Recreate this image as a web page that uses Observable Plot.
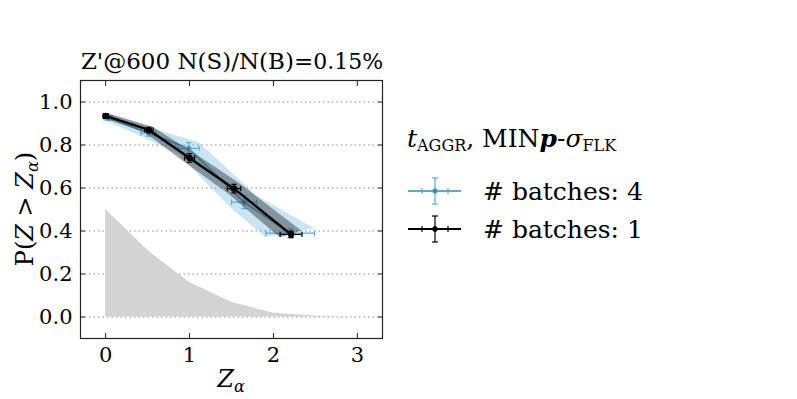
<!DOCTYPE html>
<html><head><meta charset="utf-8">
<script src="https://cdn.jsdelivr.net/npm/d3@7"></script>
<script src="https://cdn.jsdelivr.net/npm/@observablehq/plot@0.6"></script>
<style>
body{margin:0;background:#fff;}
svg text, svg tspan{font-family:"DejaVu Serif",serif !important;}
svg g[aria-label="x-axis tick label"] text, svg g[aria-label="y-axis tick label"] text{font-size:21px !important;}
</style></head>
<body><div id="chart"></div>
<script>
// null distribution (gray)
const zGrid = [0, 0.5, 1, 1.5, 2, 2.5, 3, 3.3];
const nullTail = [0.5, 0.31, 0.16, 0.069, 0.018, 0.005, 0.0, 0.0];
// # batches: 1 (black)
const zB1 = [0, 0.515, 1.0, 1.53, 2.21];
const zErrB1 = [0.03, 0.05, 0.06, 0.08, 0.13];
const pB1 = [0.935, 0.87, 0.74, 0.597, 0.384];
const pErrB1 = [0.01, 0.012, 0.02, 0.02, 0.015];
// # batches: 4 (blue)
const zB4 = [0.03, 0.51, 0.99, 1.65, 2.2];
const zErrB4 = [0.05, 0.09, 0.125, 0.15, 0.29];
const pB4 = [0.926, 0.856, 0.784, 0.534, 0.39];
const pErrB4 = [0.012, 0.015, 0.027, 0.03, 0.02];
const xTicks = [0, 1, 2, 3];
const yTicks = [0, 0.2, 0.4, 0.6, 0.8, 1.0];

const SERIF = "DejaVu Serif";
const BLUE = "#5aaad8";
const nullData = zGrid.map((z, i) => ({z, p: nullTail[i]}));
const mk = (xs, exs, ys, eys) => xs.map((x, i) => ({x, ex: exs[i], y: ys[i], ey: eys[i]}));
const b1 = mk(zB1, zErrB1, pB1, pErrB1);
const b4 = mk(zB4, zErrB4, pB4, pErrB4);

const hCap = {draw(ctx, size){const r = Math.sqrt(size)/2; ctx.moveTo(-r,0); ctx.lineTo(r,0);}};
const vCap = {draw(ctx, size){const r = Math.sqrt(size)/2; ctx.moveTo(0,-r); ctx.lineTo(0,r);}};

function series(d, color, band, bandOp, fillDot, dotR, lw) {
  return [
    Plot.area(d, {x1: d => d.x - d.ex, y1: d => d.y - d.ey, x2: d => d.x + d.ex, y2: d => d.y + d.ey, fill: band, fillOpacity: bandOp}),
    Plot.line(d, {x: "x", y: "y", stroke: color, strokeWidth: lw}),
    Plot.ruleY(d, {y: "y", x1: d => d.x - d.ex, x2: d => d.x + d.ex, stroke: color, strokeWidth: 1.2}),
    Plot.ruleX(d, {x: "x", y1: d => d.y - d.ey, y2: d => d.y + d.ey, stroke: color, strokeWidth: 1.2}),
    Plot.dot(d, {x: d => d.x - d.ex, y: "y", symbol: vCap, r: 3, stroke: color, strokeWidth: 1.2}),
    Plot.dot(d, {x: d => d.x + d.ex, y: "y", symbol: vCap, r: 3, stroke: color, strokeWidth: 1.2}),
    Plot.dot(d, {x: "x", y: d => d.y - d.ey, symbol: hCap, r: 3, stroke: color, strokeWidth: 1.2}),
    Plot.dot(d, {x: "x", y: d => d.y + d.ey, symbol: hCap, r: 3, stroke: color, strokeWidth: 1.2}),
    Plot.dot(d, {x: "x", y: "y", r: dotR, fill: fillDot, stroke: color, strokeWidth: 1})
  ];
}

const chart = Plot.plot({
  width: 797, height: 399,
  marginLeft: 80, marginRight: 415, marginTop: 80, marginBottom: 61,
  style: {fontFamily: SERIF, fontSize: "21px", background: "#fff"},
  x: {domain: [-0.3, 3.3]},
  y: {domain: [-0.1, 1.1]},
  marks: [
    Plot.gridY(yTicks, {stroke: "#888", strokeOpacity: 1, strokeDasharray: "1.5,3"}),
    Plot.areaY(nullData, {x: "z", y: "p", fill: "#d3d3d3"}),
    ...series(b4, BLUE, BLUE, 0.32, "#4f7f9c", 2.3, 2),
    ...series(b1, "#000", "#2f3436", 0.45, "#000", 2.8, 2.4),
    Plot.axisX(xTicks, {anchor: "bottom", tickSize: -5, tickPadding: 14, tickFormat: d3.format("d"), label: null, fontSize: 21, fontFamily: SERIF, stroke: "#222", fill: "#000"}),
    Plot.axisX(xTicks, {anchor: "top", tickSize: -5, tickFormat: () => "", label: null, stroke: "#222"}),
    Plot.axisY(yTicks, {anchor: "left", tickSize: -5, tickPadding: 13, tickFormat: d3.format(".1f"), label: null, fontSize: 21, fontFamily: SERIF, stroke: "#222", fill: "#000"}),
    Plot.axisY(yTicks, {anchor: "right", tickSize: -5, tickFormat: () => "", label: null, stroke: "#222"}),
    Plot.frame({stroke: "#222", strokeWidth: 1.2})
  ]
});
document.getElementById("chart").appendChild(chart);

const svg = d3.select(chart);
const txt = (x, y, size, anchor) => svg.append("text").attr("x", x).attr("y", y).attr("text-anchor", anchor).attr("font-family", SERIF).style("font-size", size + "px").attr("fill", "#000");
// title
const t = txt(232, 69, 23, "middle");
t.append("tspan").text("Z'@600 N(S)/N(B)=");
t.append("tspan").style("font-size", "22px").text("0.15%");
// x label
const xl = txt(231, 387, 24, "middle");
xl.append("tspan").style("font-style", "italic").text("Z");
xl.append("tspan").attr("dy", 5).style("font-size", "16px").style("font-style", "italic").text("α");
// y label
const yl = svg.append("text").attr("transform", "translate(33,209) rotate(-90)").attr("text-anchor", "middle").attr("font-family", SERIF).style("font-size", "24px").attr("fill", "#000");
yl.append("tspan").text("P(");
yl.append("tspan").style("font-style", "italic").text("Z");
yl.append("tspan").text(" > ");
yl.append("tspan").style("font-style", "italic").text("Z");
yl.append("tspan").attr("dy", 5).style("font-size", "16px").style("font-style", "italic").text("α");
yl.append("tspan").attr("dy", -5).text(")");
// legend
const lt = txt(407, 147, 25, "start");
lt.append("tspan").style("font-style", "italic").text("t");
lt.append("tspan").attr("dy", 4).style("font-size", "16px").text("AGGR");
lt.append("tspan").attr("dy", -4).text(", MIN");
lt.append("tspan").style("font-style", "italic").style("font-weight", "bold").text("p");
lt.append("tspan").text("-");
lt.append("tspan").style("font-style", "italic").text("σ");
lt.append("tspan").attr("dy", 4).style("font-size", "16px").text("FLK");
const entries = [{label: "# batches: 4", color: BLUE, fill: "#4f7f9c", y: 191}, {label: "# batches: 1", color: "#000", fill: "#000", y: 229}];
for (const e of entries) {
  const g = svg.append("g");
  g.append("line").attr("x1", 408).attr("x2", 461).attr("y1", e.y).attr("y2", e.y).attr("stroke", e.color).attr("stroke-width", 2);
  g.append("line").attr("x1", 435).attr("x2", 435).attr("y1", e.y - 13).attr("y2", e.y + 13).attr("stroke", e.color).attr("stroke-width", 1.2);
  for (const dx of [-13, 13]) g.append("line").attr("x1", 435 + dx).attr("x2", 435 + dx).attr("y1", e.y - 3).attr("y2", e.y + 3).attr("stroke", e.color).attr("stroke-width", 1.2);
  for (const dy of [-13, 13]) g.append("line").attr("x1", 432).attr("x2", 438).attr("y1", e.y + dy).attr("y2", e.y + dy).attr("stroke", e.color).attr("stroke-width", 1.2);
  g.append("circle").attr("cx", 435).attr("cy", e.y).attr("r", 2.4).attr("fill", e.fill).attr("stroke", e.color);
  txt(483, e.y + 9, 25, "start").text(e.label);
}
</script></body></html>
